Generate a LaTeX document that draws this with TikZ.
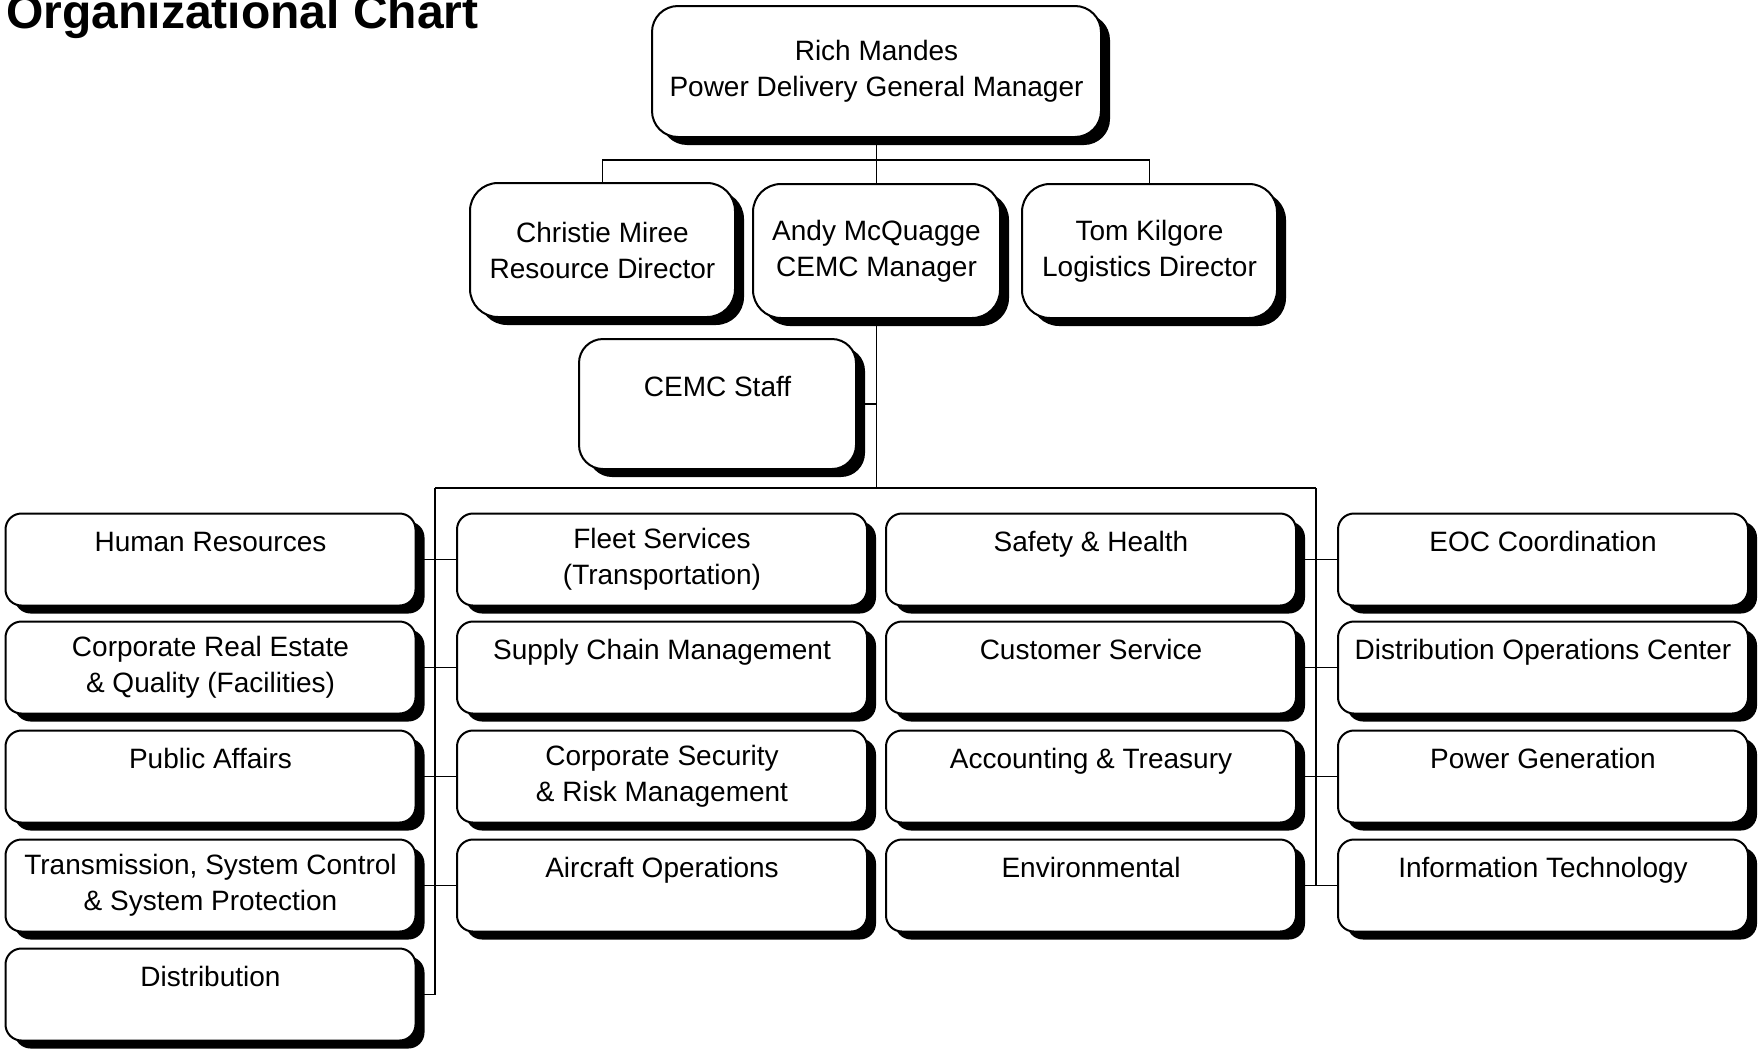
\documentclass[tikz,border=0pt]{standalone}
\usepackage{fontspec}
\setmainfont{Liberation Sans}
\usetikzlibrary{shadows}

\begin{document}
\begin{tikzpicture}[x=0.5pt, y=-0.5pt,
    font=\fontsize{14}{18}\selectfont,
    box/.style={draw, line width=1pt, fill=white, rounded corners=8pt, align=center, inner sep=2pt,
      drop shadow={shadow xshift=4.5pt, shadow yshift=-4pt, fill=black, opacity=1}},
    head/.style={box, rounded corners=14pt, minimum height=67pt},
    unit/.style={box, minimum width=205pt, minimum height=46pt},
    link/.style={line width=0.7pt}]
  \useasboundingbox (0,0) rectangle (1759,1049);

  % Title
  \node[anchor=base west, inner sep=0, font=\fontsize{24}{28}\selectfont\bfseries] (title) at (6,28) {Organizational Chart};

  % Management
  \node[box, rounded corners=13pt, minimum width=224.5pt, minimum height=65.5pt] (gm) at (876.5,71.5) {Rich Mandes\\Power Delivery General Manager};
  \node[head, minimum width=132.5pt] (res) at (602.5,250) {Christie Miree\\Resource Director};
  \node[head, minimum width=123.5pt] (cemc) at (876.5,251) {Andy McQuagge\\CEMC Manager};
  \node[head, minimum width=127.5pt] (log) at (1149.5,251) {Tom Kilgore\\Logistics Director};
  \node[box, rounded corners=12pt, minimum width=138.5pt, minimum height=65pt] (staff) at (717.5,404) {CEMC Staff\\~};

  % Units, four columns
  \node[unit] (hr) at (210.5,559.5) {Human Resources\\~};
  \node[unit] (estate) at (210.5,667.5) {Corporate Real Estate\\\& Quality (Facilities)};
  \node[unit] (public) at (210.5,776.5) {Public Affairs\\~};
  \node[unit] (trans) at (210.5,885.5) {Transmission, System Control\\\& System Protection};
  \node[unit] (distrib) at (210.5,994.5) {Distribution\\~};

  \node[unit] (fleet) at (662,559.5) {Fleet Services\\(Transportation)};
  \node[unit] (supply) at (662,667.5) {Supply Chain Management\\~};
  \node[unit] (security) at (662,776.5) {Corporate Security\\\& Risk Management};
  \node[unit] (aircraft) at (662,885.5) {Aircraft Operations\\~};

  \node[unit] (safety) at (1091,559.5) {Safety \& Health\\~};
  \node[unit] (customer) at (1091,667.5) {Customer Service\\~};
  \node[unit] (account) at (1091,776.5) {Accounting \& Treasury\\~};
  \node[unit] (environ) at (1091,885.5) {Environmental\\~};

  \node[unit] (eoc) at (1543,559.5) {EOC Coordination\\~};
  \node[unit] (doc) at (1543,667.5) {Distribution Operations Center\\~};
  \node[unit] (power) at (1543,776.5) {Power Generation\\~};
  \node[unit] (it) at (1543,885.5) {Information Technology\\~};

  % Lines
  \coordinate (split) at (876.5,160);
  \coordinate (bus) at (876.5,488);
  \coordinate (busL) at (435,488);
  \coordinate (busR) at (1316,488);

  \draw[link] (gm) -- (cemc);
  \draw[link] (res.north) |- (split) -| (log.north);
  \draw[link] (cemc) -- (bus);
  \draw[link] (staff.east) -- (staff.east -| bus);
  \draw[link] (busL) -- (busR);
  \draw[link] (busL) |- (distrib.east);
  \draw[link] (busR) |- (it.west);

  \draw[link] (hr) -- (fleet);
  \draw[link] (estate) -- (supply);
  \draw[link] (public) -- (security);
  \draw[link] (trans) -- (aircraft);
  \draw[link] (safety) -- (eoc);
  \draw[link] (customer) -- (doc);
  \draw[link] (account) -- (power);
  \draw[link] (environ) -- (it);
\end{tikzpicture}
\end{document}
